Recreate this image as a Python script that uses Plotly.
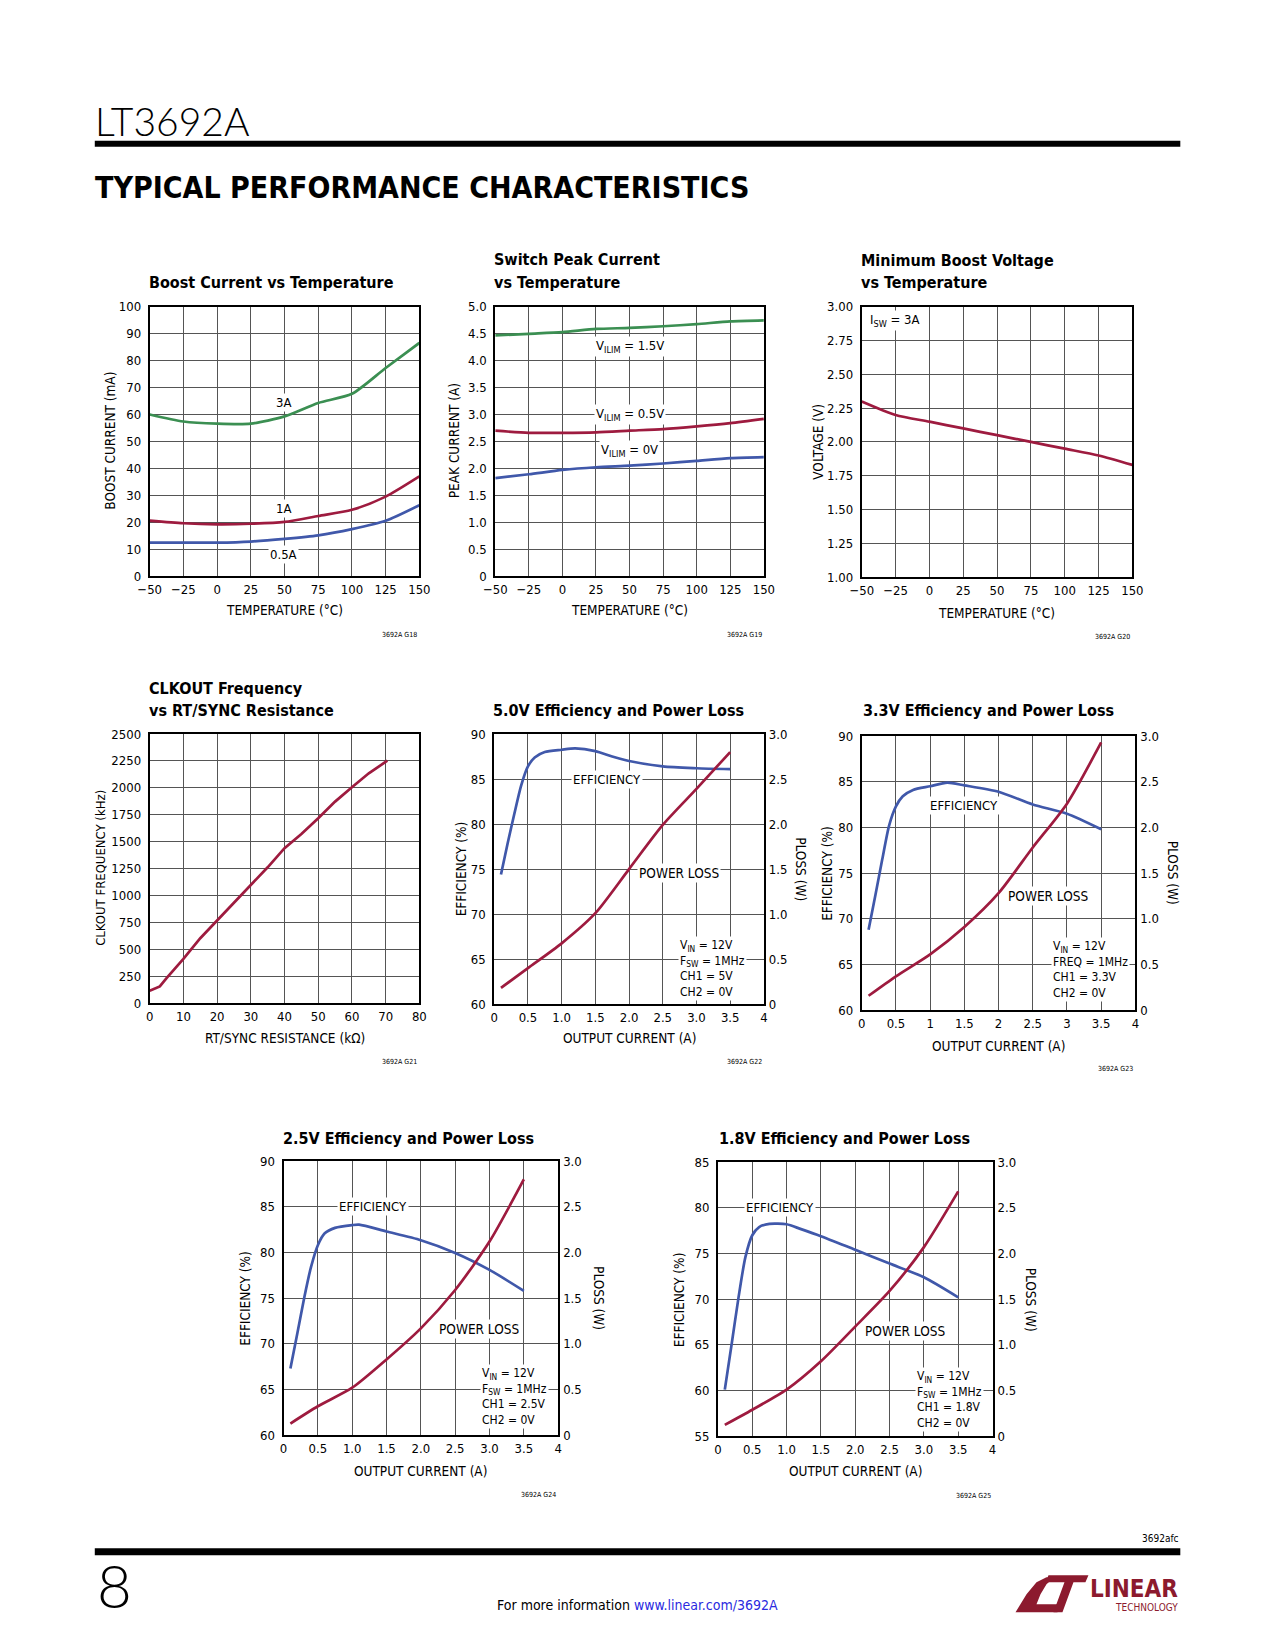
import plotly.graph_objects as go

W, H = 1275, 1650
# the page is photographed slightly scaled about its centre; positions below are
# given in target-page pixels and mapped so they land where intended.
AX, SX = 10.1, 0.9833
AY, SY = 7.2, 0.9906
def fx(x): return ((x - AX) / SX) / W
def fy(y): return 1 - ((y - AY) / SY) / H

NARROW = "Liberation Sans Narrow, Arial Narrow, DejaVu Sans Condensed, sans-serif"
THIN = "Lato, Roboto, DejaVu Sans, sans-serif"
GREEN = "#3b8f52"
RED = "#9e1b3f"
BLUE = "#4058aa"
GRID = "#555555"
LOGO = "#8c1a2e"

# ---------------- data ----------------
temp = [-50, -25, 0, 25, 50, 75, 100, 125, 150]
boost_3a = [60.0, 57.4, 56.6, 56.6, 59.3, 64.3, 67.7, 77.3, 86.6]
boost_1a = [20.6, 19.6, 19.2, 19.4, 20.1, 22.3, 24.6, 29.5, 37.0]
boost_05a = [12.4, 12.4, 12.4, 12.8, 13.8, 15.1, 17.4, 20.5, 26.3]

peak_15v = [4.47, 4.50, 4.53, 4.59, 4.61, 4.64, 4.68, 4.73, 4.75]
peak_05v = [2.70, 2.66, 2.66, 2.67, 2.70, 2.73, 2.78, 2.84, 2.92]
peak_0v = [1.82, 1.89, 1.97, 2.02, 2.05, 2.09, 2.14, 2.19, 2.21]

min_boost = [2.30, 2.20, 2.15, 2.10, 2.05, 2.00, 1.95, 1.90, 1.83]

rt_kohm = [0, 3, 5, 10, 15, 20, 25, 30, 35, 40, 45, 50, 55, 60, 65, 70.5]
clkout_khz = [114, 155, 232, 411, 603, 767, 928, 1098, 1262, 1439, 1572, 1717, 1872, 2005, 2135, 2252]

ploss_i = [0.1, 0.5, 1.0, 1.5, 2.0, 2.5, 3.0, 3.5]

eff50_i = [0.1, 0.2, 0.3, 0.4, 0.5, 0.6, 0.75, 1.0, 1.2, 1.5, 1.75, 2.0, 2.5, 3.0, 3.5]
eff50 = [74.4, 77.9, 81.2, 84.3, 86.4, 87.4, 88.0, 88.25, 88.4, 88.1, 87.5, 87.0, 86.4, 86.2, 86.1]
ploss50 = [0.18, 0.40, 0.675, 1.01, 1.50, 1.99, 2.39, 2.80]

eff33_i = [0.1, 0.2, 0.3, 0.4, 0.5, 0.6, 0.75, 1.0, 1.25, 1.5, 2.0, 2.5, 3.0, 3.5]
eff33 = [68.8, 72.6, 76.5, 80.2, 82.3, 83.4, 84.1, 84.5, 84.9, 84.6, 83.9, 82.5, 81.5, 79.8]
ploss33 = [0.157, 0.37, 0.61, 0.91, 1.28, 1.78, 2.26, 2.93]

eff25_i = [0.1, 0.2, 0.3, 0.4, 0.5, 0.6, 0.75, 1.0, 1.1, 1.5, 2.0, 2.5, 3.0, 3.5]
eff25 = [67.3, 71.1, 75.0, 78.4, 80.8, 82.1, 82.7, 83.0, 83.05, 82.3, 81.35, 79.96, 78.1, 75.8]
ploss25 = [0.128, 0.317, 0.52, 0.83, 1.17, 1.59, 2.12, 2.80]

eff18_i = [0.1, 0.2, 0.3, 0.4, 0.5, 0.6, 0.75, 1.0, 1.2, 1.5, 2.0, 2.5, 3.0, 3.5]
eff18 = [60.1, 65.1, 70.2, 74.6, 77.0, 77.9, 78.25, 78.2, 77.7, 76.9, 75.4, 73.9, 72.4, 70.2]
ploss18 = [0.124, 0.29, 0.51, 0.82, 1.20, 1.59, 2.07, 2.68]

# tick labels
temp_ticks = [-50, -25, 0, 25, 50, 75, 100, 125, 150]
temp_text = ["\u221250", "\u221225", "0", "25", "50", "75", "100", "125", "150"]
cur_ticks = [0, 0.5, 1, 1.5, 2, 2.5, 3, 3.5, 4]
cur_text_a = ["0", "0.5", "1.0", "1.5", "2.0", "2.5", "3.0", "3.5", "4"]
cur_text_b = ["0", "0.5", "1", "1.5", "2", "2.5", "3", "3.5", "4"]
ploss_ticks = [0, 0.5, 1, 1.5, 2, 2.5, 3]
ploss_text = ["0", "0.5", "1.0", "1.5", "2.0", "2.5", "3.0"]

fig = go.Figure()
layout = {}
ann = []
shapes = []

def sfx(n):
    return "" if n == 1 else str(n)

TICKFONT = dict(family=NARROW, size=13, color="black")
TSIZE = 16
ASIZE = 13.5

def make_axes(n, box, xr, xtv, xtt, yr, ytv, ytt, y2n=None):
    x0, x1, y0, y1 = box
    s = sfx(n)
    layout["xaxis" + s] = dict(domain=[fx(x0), fx(x1)], anchor="y" + s, range=xr,
                               tickmode="array", tickvals=xtv, ticktext=xtt,
                               showgrid=True, gridcolor=GRID, gridwidth=1,
                               showline=True, mirror=True, linecolor="black", linewidth=2,
                               zeroline=False, ticks="", tickfont=TICKFONT, fixedrange=True)
    layout["yaxis" + s] = dict(domain=[fy(y1), fy(y0)], anchor="x" + s, range=yr,
                               tickmode="array", tickvals=ytv, ticktext=ytt,
                               showgrid=True, gridcolor=GRID, gridwidth=1,
                               showline=True, mirror=True, linecolor="black", linewidth=2,
                               zeroline=False, ticks="", tickfont=TICKFONT, fixedrange=True,
                               ticklabelstandoff=4)
    if y2n is not None:
        layout["yaxis" + str(y2n)] = dict(overlaying="y" + s, side="right", anchor="x" + s,
                                          range=[0, 3], tickmode="array", tickvals=ploss_ticks,
                                          ticktext=ploss_text, showgrid=False, showline=False,
                                          zeroline=False, ticks="", tickfont=TICKFONT,
                                          fixedrange=True, ticklabelstandoff=4)

def line(n, x, y, color, yax=None, shape="spline"):
    s = sfx(n)
    fig.add_trace(go.Scatter(x=x, y=y, xaxis="x" + s, yaxis=yax if yax else "y" + s,
                             mode="lines", hoverinfo="skip",
                             line=dict(color=color, width=2.7, shape=shape, smoothing=0.7)))

def txt(text, x, y, size=13, bold=False, xanchor="center", yanchor="middle", angle=0,
        family=NARROW, color="black", xref="paper", yref="paper", bg=None, align="center", weight=None):
    f = dict(family=family, size=size, color=color)
    if weight is not None:
        f["weight"] = weight
    elif bold:
        f["weight"] = "bold"
    d = dict(text=text, x=x, y=y, xref=xref, yref=yref, showarrow=False, font=f,
             xanchor=xanchor, yanchor=yanchor, textangle=angle, align=align)
    if bg:
        d["bgcolor"] = bg
        d["borderpad"] = 1
    ann.append(d)

def ptxt(text, x, y, **kw):
    txt(text, fx(x), fy(y), **kw)

def dtxt(n, text, x, y, **kw):
    s = sfx(n)
    txt(text, x, y, xref="x" + s, yref="y" + s, bg="white", **kw)

def title(text, x, y):
    ptxt("<b>" + text + "</b>", x - 3, y, size=TSIZE, xanchor="left")

# ---------------- chart 1 ----------------
make_axes(1, (148, 418, 307, 576), [-50, 150], temp_ticks, temp_text, [0, 100],
          list(range(0, 101, 10)), [str(v) for v in range(0, 101, 10)])
line(1, temp, boost_3a, GREEN)
line(1, temp, boost_1a, RED)
line(1, temp, boost_05a, BLUE)
dtxt(1, "3A", 49.5, 64.5)
dtxt(1, "1A", 49.5, 25.2)
dtxt(1, "0.5A", 49.5, 8.0)
title("Boost Current vs Temperature", 148, 283)
ptxt("BOOST CURRENT (mA)", 108, 441, size=ASIZE, angle=-90)
ptxt("TEMPERATURE (\u00b0C)", 283, 610, size=ASIZE)
ptxt("3692A G18", 418, 635, size=7, xanchor="right")

# ---------------- chart 2 ----------------
pk_ticks = [0, 0.5, 1, 1.5, 2, 2.5, 3, 3.5, 4, 4.5, 5]
pk_text = ["0", "0.5", "1.0", "1.5", "2.0", "2.5", "3.0", "3.5", "4.0", "4.5", "5.0"]
make_axes(2, (494, 763, 307, 576), [-50, 150], temp_ticks, temp_text, [0, 5], pk_ticks, pk_text)
line(2, temp, peak_15v, GREEN)
line(2, temp, peak_05v, RED)
line(2, temp, peak_0v, BLUE)
dtxt(2, "V<sub>ILIM</sub> = 1.5V", 50, 4.26)
dtxt(2, "V<sub>ILIM</sub> = 0.5V", 50, 3.0)
dtxt(2, "V<sub>ILIM</sub> = 0V", 50, 2.34)
title("Switch Peak Current", 494, 260)
title("vs Temperature", 494, 283)
ptxt("PEAK CURRENT (A)", 453, 441, size=ASIZE, angle=-90)
ptxt("TEMPERATURE (\u00b0C)", 628, 610, size=ASIZE)
ptxt("3692A G19", 763, 635, size=7, xanchor="right")

# ---------------- chart 3 ----------------
mv_ticks = [1.0, 1.25, 1.5, 1.75, 2.0, 2.25, 2.5, 2.75, 3.0]
mv_text = ["1.00", "1.25", "1.50", "1.75", "2.00", "2.25", "2.50", "2.75", "3.00"]
make_axes(3, (861, 1132, 307, 577), [-50, 150], temp_ticks, temp_text, [1, 3], mv_ticks, mv_text)
line(3, temp, min_boost, RED)
dtxt(3, "I<sub>SW</sub> = 3A", -45.5, 2.9, xanchor="left")
title("Minimum Boost Voltage", 861, 261)
title("vs Temperature", 861, 283)
ptxt("VOLTAGE (V)", 817, 442, size=ASIZE, angle=-90)
ptxt("TEMPERATURE (\u00b0C)", 996, 613, size=ASIZE)
ptxt("3692A G20", 1132, 637, size=7, xanchor="right")

# ---------------- chart 4 ----------------
make_axes(4, (148, 418, 734, 1003), [0, 80], list(range(0, 81, 10)), [str(v) for v in range(0, 81, 10)],
          [0, 2500], list(range(0, 2501, 250)), [str(v) for v in range(0, 2501, 250)])
line(4, rt_kohm, clkout_khz, RED, shape="linear")
title("CLKOUT Frequency", 148, 688)
title("vs RT/SYNC Resistance", 148, 710)
ptxt("CLKOUT FREQUENCY (kHz)", 98, 868, size=13, angle=-90)
ptxt("RT/SYNC RESISTANCE (k\u03a9)", 283, 1038, size=ASIZE)
ptxt("3692A G21", 418, 1062, size=7, xanchor="right")

# ---------------- efficiency charts ----------------
def eff_chart(n, y2n, box, yr, xtext, ei, ev, pv, eff_lbl, pl_lbl, box_lbl, lines,
              ttl, title_xy, ytitle_x, xtitle_y, y2title_x, code, code_y):
    x0, x1, y0, y1 = box
    ytv = list(range(yr[0], yr[1] + 1, 5))
    make_axes(n, box, [0, 4], cur_ticks, xtext, yr, ytv, [str(v) for v in ytv], y2n=y2n)
    line(n, ei, ev, BLUE)
    line(n, ploss_i, pv, RED, yax="y" + str(y2n))
    dtxt(n, "EFFICIENCY", eff_lbl[0], eff_lbl[1])
    dtxt(n, "POWER LOSS", pl_lbl[0], pl_lbl[1], size=13.5)
    dtxt(n, "<br>".join(lines), box_lbl[0], box_lbl[1], xanchor="left", align="left", size=12)
    title(ttl, title_xy[0], title_xy[1])
    cy = (y0 + y1) / 2
    ptxt("EFFICIENCY (%)", ytitle_x, cy, size=ASIZE, angle=-90)
    ptxt("PLOSS (W)", y2title_x, cy, size=ASIZE, angle=90)
    ptxt("OUTPUT CURRENT (A)", (x0 + x1) / 2, xtitle_y, size=ASIZE)
    ptxt(code, x1, code_y, size=7, xanchor="right")

eff_chart(5, 9, (493, 763, 734, 1004), [60, 90], cur_text_a, eff50_i, eff50, ploss50,
          (1.68, 85), (2.74, 74.6), (2.72, 64.0),
          ["V<sub>IN</sub> = 12V", "F<sub>SW</sub> = 1MHz", "CH1 = 5V", "CH2 = 0V"],
          "5.0V Efficiency and Power Loss", (493, 710), 460, 1038, 800, "3692A G22", 1062)
eff_chart(6, 10, (861, 1135, 736, 1010), [60, 90], cur_text_b, eff33_i, eff33, ploss33,
          (1.49, 82.35), (2.73, 72.5), (2.76, 64.4),
          ["V<sub>IN</sub> = 12V", "FREQ = 1MHz", "CH1 = 3.3V", "CH2 = 0V"],
          "3.3V Efficiency and Power Loss", (863, 710), 826, 1046, 1173, "3692A G23", 1069)
eff_chart(7, 11, (282, 557, 1161, 1435), [60, 90], cur_text_a, eff25_i, eff25, ploss25,
          (1.31, 85), (2.84, 71.6), (2.865, 64.2),
          ["V<sub>IN</sub> = 12V", "F<sub>SW</sub> = 1MHz", "CH1 = 2.5V", "CH2 = 0V"],
          "2.5V Efficiency and Power Loss", (282, 1138), 244, 1471, 598, "3692A G24", 1495)
eff_chart(8, 12, (717, 992, 1162, 1436), [55, 85], cur_text_a, eff18_i, eff18, ploss18,
          (0.90, 80), (2.72, 66.5), (2.875, 59.0),
          ["V<sub>IN</sub> = 12V", "F<sub>SW</sub> = 1MHz", "CH1 = 1.8V", "CH2 = 0V"],
          "1.8V Efficiency and Power Loss", (719, 1138), 678, 1471, 1030, "3692A G25", 1496)

# ---------------- page header / footer ----------------
ptxt("LT3692A", 91, 121, size=39, xanchor="left", family=THIN, weight=300)
shapes.append(dict(type="rect", xref="paper", yref="paper", x0=fx(93), x1=fx(1180), y0=fy(147), y1=fy(141),
                   fillcolor="black", line=dict(width=0)))
ptxt("<b>TYPICAL PERFORMANCE CHARACTERISTICS</b>", 91, 188, size=30, xanchor="left")

ptxt("3692afc", 1181, 1538, size=10, xanchor="right")
shapes.append(dict(type="rect", xref="paper", yref="paper", x0=fx(93), x1=fx(1180), y0=fy(1555), y1=fy(1548),
                   fillcolor="black", line=dict(width=0)))
ptxt("8", 93, 1585, size=60, xanchor="left", family=THIN, weight=300)
ptxt("For more information <span style='color:#2a2ae0'>www.linear.com/3692A</span>", 636, 1605, size=14)

def poly(points):
    p = "M " + " L ".join(f"{fx(x):.5f},{fy(y):.5f}" for x, y in points) + " Z"
    shapes.append(dict(type="path", xref="paper", yref="paper", path=p, fillcolor=LOGO, line=dict(width=0)))

poly([(1015, 1612), (1026, 1594), (1036, 1582), (1046, 1577), (1054, 1577), (1046, 1584),
      (1040, 1594), (1036, 1604), (1060, 1604), (1057, 1612)])
poly([(1048, 1575), (1088, 1575), (1085, 1582), (1073, 1582), (1062, 1612), (1053, 1612), (1064, 1582), (1045, 1582)])
ptxt("<b>LINEAR</b>", 1180, 1589, size=24, xanchor="right", color=LOGO)
ptxt("TECHNOLOGY", 1180, 1607, size=10, xanchor="right", color=LOGO)

layout.update(dict(width=W, height=H, margin=dict(l=0, r=0, t=0, b=0),
                   paper_bgcolor="white", plot_bgcolor="white", showlegend=False,
                   annotations=ann, shapes=shapes))
fig.update_layout(**layout)
fig.write_html("out.html", config={"displayModeBar": False},
               post_script="document.body.style.margin='0px';document.body.style.padding='0px';"
                           "document.documentElement.style.overflow='hidden';")
